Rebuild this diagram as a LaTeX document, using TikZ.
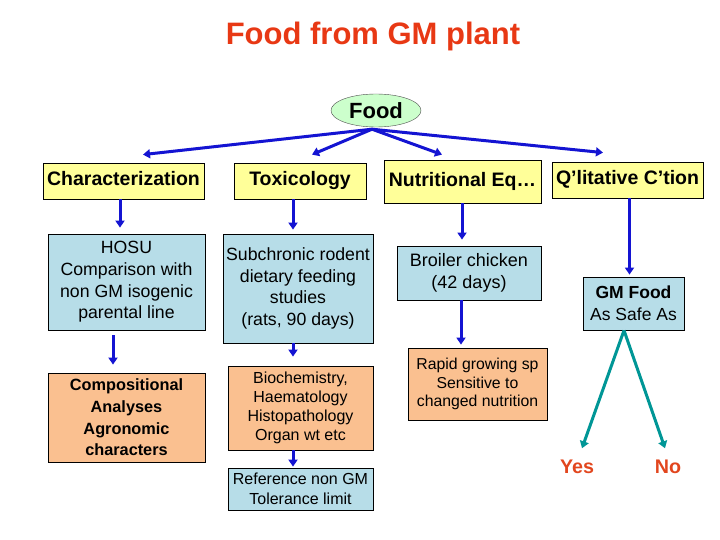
\documentclass[tikz,border=0pt]{standalone}
\usepackage{fontspec}
\setmainfont{Liberation Sans}
\usepackage{tikz}
\usetikzlibrary{arrows.meta}
\usetikzlibrary{shapes.geometric}

\definecolor{titlered}{RGB}{232,56,20}
\definecolor{answerred}{RGB}{226,70,30}
\definecolor{foodgreen}{RGB}{204,255,204}
\definecolor{boxyellow}{RGB}{255,255,153}
\definecolor{boxblue}{RGB}{183,221,232}
\definecolor{boxorange}{RGB}{250,192,144}
\definecolor{flowblue}{RGB}{20,20,210}
\definecolor{choiceteal}{RGB}{0,150,150}

\tikzset{
  box/.style={draw=black, line width=0.8pt, align=center, inner sep=0pt},
  yellowbox/.style={box, fill=boxyellow, text height=14pt, text depth=4pt, font=\fontsize{19.5}{23}\selectfont\bfseries},
  bluebox/.style={box, fill=boxblue},
  orangebox/.style={box, fill=boxorange},
  flow/.style={draw=flowblue, line width=3pt, ->, >={Triangle[length=7pt,width=9pt]}},
  choice/.style={flow, draw=choiceteal},
  answer/.style={anchor=base, inner sep=0pt, text=answerred, font=\fontsize{19.7}{24}\selectfont\bfseries}
}

\begin{document}
\begin{tikzpicture}[x=1pt,y=-1pt]
    \useasboundingbox (0,0) rectangle (720,540);
    \node[anchor=base, text=titlered, font=\fontsize{31}{36}\selectfont\bfseries] (title) at (373,45) {Food from GM plant};
    \node[ellipse, draw=black!70, fill=foodgreen, minimum width=90pt, minimum height=33pt, inner sep=0pt,
          font=\fontsize{22}{26}\selectfont\bfseries] (food) at (376,110.5) {Food};
    % first row
    \node[yellowbox, minimum width=161pt, minimum height=36pt] (char) at (123.5,181) {Characterization};
    \node[yellowbox, minimum width=132pt, minimum height=36pt] (tox) at (300,181) {Toxicology};
    \node[yellowbox, minimum width=157pt, minimum height=43pt] (nutr) at (462.5,181.5) {Nutritional Eq…};
    \node[yellowbox, minimum width=151pt, minimum height=36pt] (qual) at (627.5,180) {Q’litative C’tion};
    % second row
    \node[bluebox, minimum width=157pt, minimum height=96pt, font=\fontsize{17.7}{21.7}\selectfont] (hosu) at (126.5,282)
        {HOSU\\Comparison with\\non GM isogenic\\parental line};
    \node[bluebox, minimum width=150pt, minimum height=109pt, font=\fontsize{17.7}{21.7}\selectfont] (sub) at (298,288.5)
        {Subchronic rodent\\dietary feeding\\studies\\(rats, 90 days)};
    \node[bluebox, minimum width=144pt, minimum height=54pt, font=\fontsize{18}{22}\selectfont] (broil) at (469,273)
        {Broiler chicken\\(42 days)};
    \node[bluebox, minimum width=101pt, minimum height=53pt, font=\fontsize{17.5}{22}\selectfont] (gm) at (633.5,303.5)
        {\textbf{GM Food}\\As Safe As};
    % third row
    \node[orangebox, minimum width=157pt, minimum height=89pt, font=\fontsize{16.3}{21.7}\selectfont\bfseries] (comp) at (126.5,417.5)
        {Compositional\\Analyses\\Agronomic\\characters};
    \node[orangebox, minimum width=145pt, minimum height=84pt, font=\fontsize{16}{19}\selectfont] (bio) at (300.5,408)
        {Biochemistry,\\Haematology\\Histopathology\\Organ wt etc};
    \node[bluebox, minimum width=145pt, minimum height=42pt, font=\fontsize{16}{20}\selectfont] (ref) at (300.5,489)
        {Reference non GM\\Tolerance limit};
    \node[orangebox, minimum width=139pt, minimum height=72pt, font=\fontsize{15.8}{18.5}\selectfont] (rapid) at (477.5,384)
        {Rapid growing sp\\Sensitive to\\changed nutrition};
    \node[answer] (yes) at (577,473) {Yes};
    \node[answer] (no) at (668,473) {No};
    % arrows
    \foreach \target/\dx/\dy in {char/19.5/8, tox/12/8, nutr/-20.5/5, qual/-24.5/9} {
    \draw[flow] ([xshift=-4pt,yshift=-2pt]food.south) -- ([xshift=\dx pt,yshift=\dy pt]\target.north);
    }
    \foreach \from/\to/\x/\gapa/\gapb in {char/hosu/120/0/6, tox/sub/293/0/4, nutr/broil/462/0/6, qual/gm/629.5/0/2,
                                          hosu/comp/113/5/8, sub/bio/293/0/9, bio/ref/293/0/1, broil/rapid/461/0/3} {
    \draw[flow, shorten <=\gapa pt, shorten >=\gapb pt] (\x,0 |- \from.south) -- (\x,0 |- \to.north);
    }
    \draw[choice] ([xshift=-9.5pt]gm.south) -- ([xshift=5pt,yshift=11pt]yes.north);
    \draw[choice] ([xshift=-9.5pt]gm.south) -- ([xshift=-3pt,yshift=11pt]no.north);
\end{tikzpicture}
\end{document}
